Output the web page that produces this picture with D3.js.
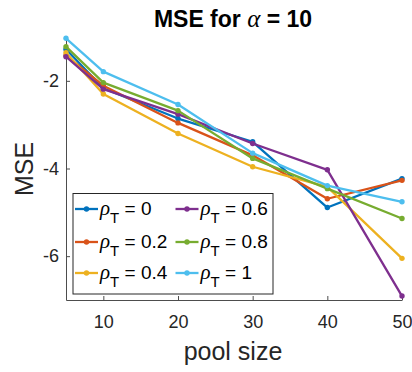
<!DOCTYPE html>
<html>
<head>
<meta charset="utf-8">
<script src="https://cdn.jsdelivr.net/npm/d3@7"></script>
<style>
  html, body { margin: 0; padding: 0; background: #fff; }
  svg { display: block; font-family: "Liberation Sans", Arial, sans-serif; }
</style>
</head>
<body>
<div id="chart"></div>
<script>
// Pool sizes on the x axis
const poolSizes = [5, 10, 20, 30, 40, 50];

// MSE per correlation level rho_T
const rhoLabels = ["0", "0.2", "0.4", "0.6", "0.8", "1"];
const mseRho0   = [-1.28, -2.17, -2.86, -3.39, -4.89, -4.23];
const mseRho02  = [-1.42, -2.11, -2.96, -3.70, -4.69, -4.27];
const mseRho04  = [-1.36, -2.30, -3.20, -3.96, -4.42, -6.05];
const mseRho06  = [-1.45, -2.19, -2.76, -3.43, -4.03, -6.91];
const mseRho08  = [-1.22, -2.04, -2.68, -3.77, -4.46, -5.14];
const mseRho1   = [-1.03, -1.79, -2.54, -3.65, -4.39, -4.76];

const xTicks = [10, 20, 30, 40, 50];
const yTicks = [-6, -4, -2];

const colors = ["#0072BD", "#D95319", "#EDB120", "#7E2F8E", "#77AC30", "#4DBEEE"];
const seriesValues = [mseRho0, mseRho02, mseRho04, mseRho06, mseRho08, mseRho1];

const W = 412, H = 372;
const svg = d3.select("#chart").append("svg").attr("width", W).attr("height", H);

const x = d3.scaleLinear().domain([5, 50]).range([66, 402]);
const y = d3.scaleLinear().domain([-7, -1]).range([300, 37]);

const axisColor = "#4d4d4d";

// Axes (inward ticks, no box)
const xAxis = svg.append("g").attr("transform", `translate(0,${y(-7)})`)
  .call(d3.axisBottom(x).tickValues(xTicks).tickSizeInner(-4).tickSizeOuter(0).tickPadding(15));
const yAxis = svg.append("g").attr("transform", `translate(${x(5)},0)`)
  .call(d3.axisLeft(y).tickValues(yTicks).tickSizeInner(-4).tickSizeOuter(0).tickPadding(7)
    .tickFormat(d => d));
[xAxis, yAxis].forEach(g => {
  g.select(".domain").attr("stroke", axisColor).attr("stroke-width", 1);
  g.selectAll(".tick line").attr("stroke", axisColor);
  g.selectAll(".tick text").attr("fill", "#262626").attr("font-size", 18)
    .attr("font-family", "Liberation Sans, Arial, sans-serif");
});
xAxis.selectAll(".tick text").attr("dy", "0.71em");

// Series lines and markers
const line = d3.line().x((d, i) => x(poolSizes[i])).y(d => y(d));
seriesValues.forEach((vals, k) => {
  const g = svg.append("g");
  g.append("path").datum(vals).attr("d", line)
    .attr("fill", "none").attr("stroke", colors[k]).attr("stroke-width", 2.3)
    .attr("stroke-linejoin", "round");
  g.selectAll("circle").data(vals).join("circle")
    .attr("cx", (d, i) => x(poolSizes[i])).attr("cy", d => y(d))
    .attr("r", 2.7).attr("fill", colors[k]);
});

// Title
const title = svg.append("text").attr("x", 233).attr("y", 26.5)
  .attr("text-anchor", "middle").attr("font-size", 23).attr("font-weight", "bold")
  .attr("fill", "#000");
title.append("tspan").text("MSE for ");
title.append("tspan").text("α").attr("font-family", "Liberation Serif, Times New Roman, serif")
  .attr("font-style", "italic").attr("font-weight", "normal").attr("font-size", 25);
title.append("tspan").text(" = 10");

// Axis labels
svg.append("text").attr("x", 233).attr("y", 360).attr("text-anchor", "middle")
  .attr("font-size", 25).attr("fill", "#262626").text("pool size");
svg.append("text").attr("transform", "translate(33,169) rotate(-90)")
  .attr("text-anchor", "middle").attr("font-size", 25).attr("fill", "#262626").text("MSE");

// Legend
const legend = svg.append("g");
legend.append("rect").attr("x", 73).attr("y", 193.5).attr("width", 200).attr("height", 100.5)
  .attr("fill", "#fff").attr("stroke", "#262626").attr("stroke-width", 1);
const colX = [75, 175.5];
const rowY = [209, 242, 273];
rhoLabels.forEach((lab, k) => {
  const cx = colX[Math.floor(k / 3)], cy = rowY[k % 3];
  legend.append("line").attr("x1", cx).attr("x2", cx + 23).attr("y1", cy).attr("y2", cy)
    .attr("stroke", colors[k]).attr("stroke-width", 2.3);
  legend.append("circle").attr("cx", cx + 11.5).attr("cy", cy).attr("r", 2.7).attr("fill", colors[k]);
  const t = legend.append("text").attr("x", cx + 25).attr("y", cy + 6)
    .attr("font-size", 19).attr("fill", "#000");
  t.append("tspan").text("ρ").attr("font-family", "Liberation Serif, Times New Roman, serif")
    .attr("font-style", "italic").attr("font-size", 21);
  t.append("tspan").text("T").attr("font-size", 15).attr("dy", 8);
  t.append("tspan").text(" = " + lab).attr("dy", -8);
});
</script>
</body>
</html>
